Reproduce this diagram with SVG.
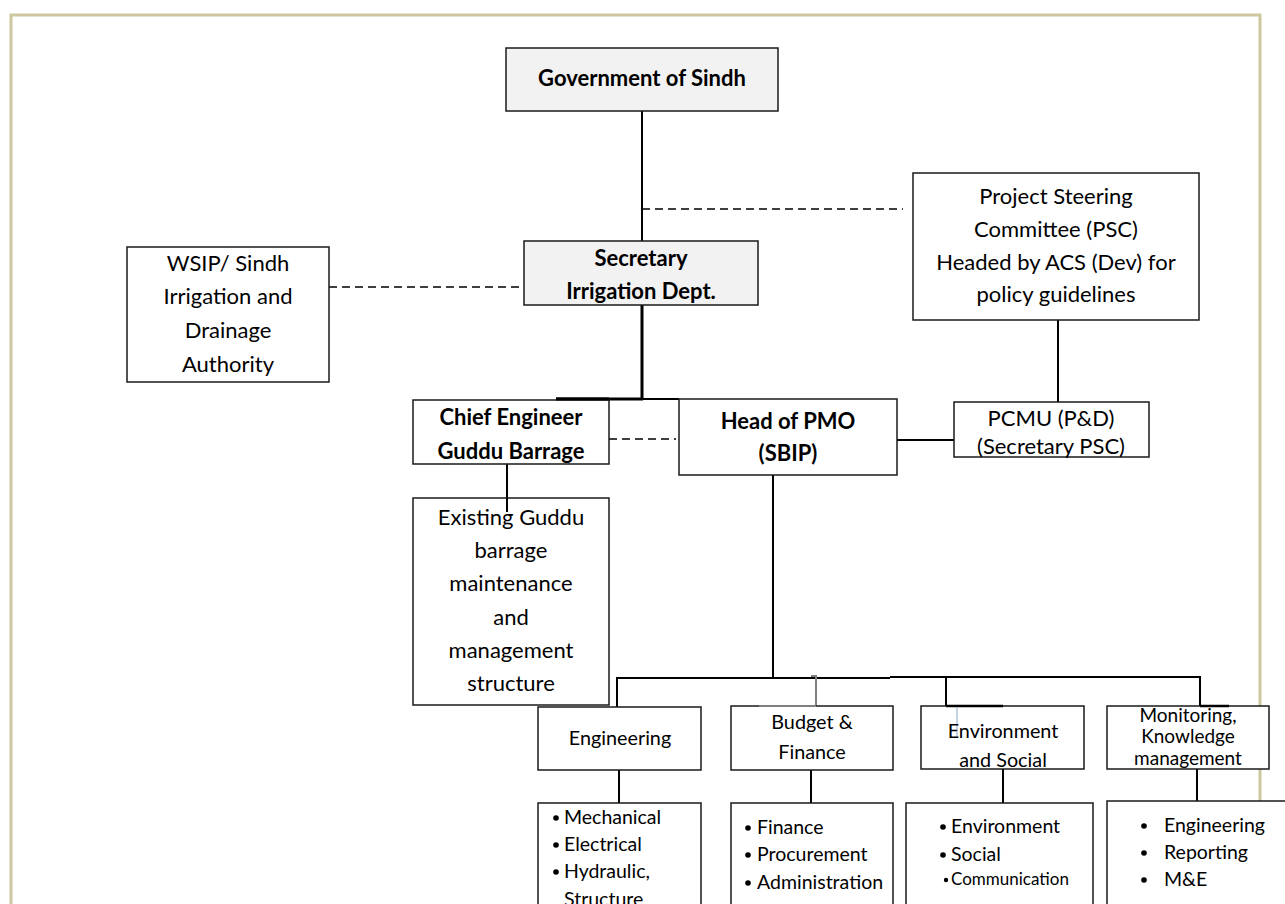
<svg xmlns="http://www.w3.org/2000/svg" width="1285" height="904" viewBox="0 0 1285 904">
<style>
  .frame{fill:none;stroke:#cdc7a0;stroke-width:3}
  .box{fill:#ffffff;stroke:#1a1a1a;stroke-width:1.5}
  .gbox{fill:#f2f2f2;stroke:#1a1a1a;stroke-width:1.5}
  .ln{stroke:#000;stroke-width:2;fill:none}
  .thick{stroke:#000;stroke-width:3;fill:none}
  .dash{stroke:#000;stroke-width:1.6;stroke-dasharray:8 5;fill:none}
  .gray{stroke:#808080;stroke-width:2;fill:none}
  .dot{fill:#000}
  text{font-family:Lato,"Liberation Sans",sans-serif;fill:#000}
  .t{font-size:22px;text-anchor:middle}
  .tb{font-size:22px;font-weight:bold;text-anchor:middle}
  .s{font-size:19.8px;text-anchor:middle}
  .m{font-size:19px;text-anchor:middle}
  .bl{font-size:19.5px}
  .bs{font-size:17px}
</style>
<rect class="frame" x="11" y="15" width="1249" height="900"/>

<g id="connectors">
  <line class="ln" x1="642" y1="111" x2="642" y2="241"/>
  <line class="dash" x1="642" y1="209" x2="903" y2="209"/>
  <line class="dash" x1="329" y1="287" x2="522" y2="287"/>
  <line class="thick" x1="642" y1="305" x2="642" y2="400"/>
  <line class="thick" x1="556" y1="399" x2="643" y2="399"/>
  <line class="ln" x1="643" y1="399" x2="679" y2="399"/>
  <line class="dash" x1="609" y1="439" x2="676" y2="439"/>
  <line class="ln" x1="507" y1="464" x2="507" y2="512"/>
  <line class="ln" x1="1058" y1="320" x2="1058" y2="402"/>
  <line class="ln" x1="897" y1="440" x2="954" y2="440"/>
  <line class="ln" x1="773" y1="475" x2="773" y2="678"/>
  <line class="ln" x1="617" y1="678" x2="890" y2="678"/>
  <line class="ln" x1="890" y1="677" x2="1201" y2="677"/>
  <line class="ln" x1="617" y1="677" x2="617" y2="707"/>
  <polyline class="gray" points="811,676 816,676 816,706 759,706"/>
  <line class="ln" x1="946" y1="677" x2="946" y2="706"/>
  <line class="ln" x1="1200" y1="677" x2="1200" y2="706"/>
  <line class="ln" x1="619" y1="770" x2="619" y2="803"/>
  <line class="ln" x1="811" y1="770" x2="811" y2="803"/>
  <line class="ln" x1="1003" y1="769" x2="1003" y2="803"/>
  <line class="ln" x1="1197" y1="769" x2="1197" y2="801"/>
</g>

<g id="gov"><rect class="gbox" x="506" y="48" width="272" height="63"/><text class="tb" x="642" y="86">Government of Sindh</text></g>
<g id="secretary"><rect class="gbox" x="524" y="241" width="234" height="64"/><text class="tb" x="641" y="266">Secretary</text><text class="tb" x="641" y="299">Irrigation Dept.</text></g>
<g id="wsip"><rect class="box" x="127" y="247" width="202" height="135"/>
  <text class="t" x="228" y="271">WSIP/ Sindh</text><text class="t" x="228" y="304">Irrigation and</text><text class="t" x="228" y="338">Drainage</text><text class="t" x="228" y="372">Authority</text></g>
<g id="psc"><rect class="box" x="913" y="173" width="286" height="147"/>
  <text class="t" x="1056" y="204">Project Steering</text><text class="t" x="1056" y="237">Committee (PSC)</text><text class="t" x="1056" y="270">Headed by ACS (Dev) for</text><text class="t" x="1056" y="302">policy guidelines</text></g>
<g id="chief"><rect class="box" x="413" y="400" width="196" height="64"/>
  <line class="thick" x1="556" y1="399" x2="609" y2="399"/>
  <text class="tb" x="511" y="425">Chief Engineer</text><text class="tb" x="511" y="459">Guddu Barrage</text></g>
<g id="head"><rect class="box" x="679" y="399" width="218" height="76"/>
  <text class="tb" x="788" y="429">Head of PMO</text><text class="tb" x="788" y="461">(SBIP)</text></g>
<g id="pcmu"><rect class="box" x="954" y="402" width="195" height="55"/>
  <text class="t" x="1051" y="426">PCMU (P&amp;D)</text><text class="t" x="1051" y="454">(Secretary PSC)</text></g>
<g id="existing"><rect class="box" x="413" y="498" width="196" height="207"/>
  <line class="ln" x1="507" y1="498" x2="507" y2="512"/>
  <text class="t" x="511" y="525">Existing Guddu</text><text class="t" x="511" y="558">barrage</text><text class="t" x="511" y="591">maintenance</text><text class="t" x="511" y="625">and</text><text class="t" x="511" y="658">management</text><text class="t" x="511" y="691">structure</text></g>

<g id="engineering"><rect class="box" x="538" y="707" width="163" height="63"/><text class="s" x="620" y="745">Engineering</text></g>
<g id="budget"><rect class="box" x="731" y="706" width="162" height="64"/>
  <line class="gray" x1="759" y1="706" x2="816" y2="706"/>
  <text class="s" x="812" y="729">Budget &amp;</text><text class="s" x="812" y="759">Finance</text></g>
<g id="envsoc"><rect class="box" x="921" y="706" width="163" height="63"/>
  <line stroke="#000" stroke-width="2.5" x1="946" y1="706" x2="1003" y2="706"/>
  <line stroke="#9fb4cc" stroke-width="1.2" x1="957" y1="707" x2="957" y2="737"/>
  <text class="s" x="1003" y="738">Environment</text><text class="s" x="1003" y="767">and Social</text></g>
<g id="monitoring"><rect class="box" x="1107" y="706" width="162" height="63"/>
  <line stroke="#000" stroke-width="2.5" x1="1200" y1="706" x2="1229" y2="706"/>
  <text class="m" x="1188" y="722">Monitoring,</text><text class="m" x="1188" y="743">Knowledge</text><text class="m" x="1188" y="765">management</text></g>

<g id="eng-list"><rect class="box" x="538" y="803" width="163" height="120"/>
  <circle class="dot" cx="556" cy="818" r="2.8"/><text class="bl" x="564" y="824">Mechanical</text>
  <circle class="dot" cx="556" cy="845" r="2.8"/><text class="bl" x="564" y="851">Electrical</text>
  <circle class="dot" cx="556" cy="872" r="2.8"/><text class="bl" x="564" y="878">Hydraulic,</text>
  <text class="bl" x="564" y="906">Structure</text></g>
<g id="budget-list"><rect class="box" x="731" y="803" width="162" height="120"/>
  <circle class="dot" cx="748" cy="828" r="2.8"/><text class="bl" x="757" y="834">Finance</text>
  <circle class="dot" cx="748" cy="855" r="2.8"/><text class="bl" x="757" y="861">Procurement</text>
  <circle class="dot" cx="748" cy="883" r="2.8"/><text class="bl" x="757" y="889">Administration</text></g>
<g id="env-list"><rect class="box" x="906" y="803" width="187" height="120"/>
  <circle class="dot" cx="943" cy="827" r="2.8"/><text class="bl" x="951" y="833">Environment</text>
  <circle class="dot" cx="943" cy="855" r="2.8"/><text class="bl" x="951" y="861">Social</text>
  <circle class="dot" cx="946" cy="880" r="2.2"/><text class="bs" x="951" y="885">Communication</text></g>
<g id="mon-list"><rect class="box" x="1107" y="801" width="200" height="120"/>
  <circle class="dot" cx="1144" cy="826" r="2.8"/><text class="bl" x="1164" y="832">Engineering</text>
  <circle class="dot" cx="1144" cy="853" r="2.8"/><text class="bl" x="1164" y="859">Reporting</text>
  <circle class="dot" cx="1144" cy="880" r="2.8"/><text class="bl" x="1164" y="886">M&amp;E</text></g>
</svg>
